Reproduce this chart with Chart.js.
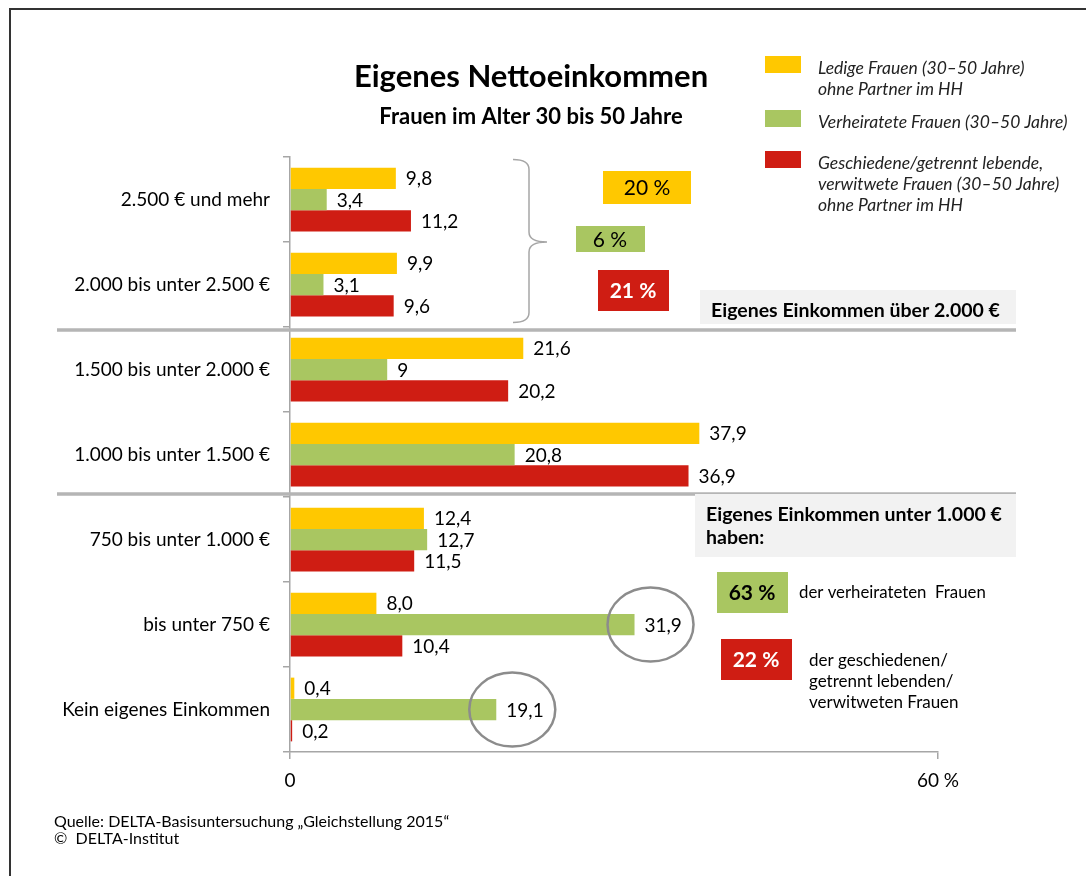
<!DOCTYPE html>
<html lang="de">
<head>
<meta charset="UTF-8">
<title>Eigenes Nettoeinkommen</title>
<script src="https://cdn.jsdelivr.net/npm/chart.js"></script>
<style>
  html, body { margin: 0; padding: 0; background: #fff; }
  #wrap { position: relative; width: 1086px; height: 876px; }
</style>
</head>
<body>
<div id="wrap"><canvas id="chart" width="1086" height="876"></canvas></div>
<script>
// Daten
const kategorien = ['2.500 € und mehr', '2.000 bis unter 2.500 €', '1.500 bis unter 2.000 €',
  '1.000 bis unter 1.500 €', '750 bis unter 1.000 €', 'bis unter 750 €', 'Kein eigenes Einkommen'];
const ledige = [9.8, 9.9, 21.6, 37.9, 12.4, 8.0, 0.4];
const verheiratete = [3.4, 3.1, 9, 20.8, 12.7, 31.9, 19.1];
const geschiedene = [11.2, 9.6, 20.2, 36.9, 11.5, 10.4, 0.2];
const ledigeText = ['9,8', '9,9', '21,6', '37,9', '12,4', '8,0', '0,4'];
const verheirateteText = ['3,4', '3,1', '9', '20,8', '12,7', '31,9', '19,1'];
const geschiedeneText = ['11,2', '9,6', '20,2', '36,9', '11,5', '10,4', '0,2'];
const legendeTexte = [
  ['Ledige Frauen (30–50 Jahre)', 'ohne Partner im HH'],
  ['Verheiratete Frauen (30–50 Jahre)'],
  ['Geschiedene/getrennt lebende,', 'verwitwete Frauen (30–50 Jahre)', 'ohne Partner im HH']
];
const xTicks = [0, 60];
const markiert = [[1, 5], [1, 6]]; // [dataset, index] mit Kreis

const GELB = '#FFC800', GRUEN = '#A9C661', ROT = '#CF1D13', GRAU = '#a6a6a6';
const SCHRIFT = 'Lato, "Open Sans", sans-serif';

function box(ctx, x, y, w, h, farbe) {
  ctx.fillStyle = farbe;
  ctx.fillRect(x, y, w, h);
}
function text(ctx, t, x, y, font, farbe, align) {
  ctx.font = font;
  ctx.fillStyle = farbe || '#000';
  ctx.textAlign = align || 'left';
  ctx.textBaseline = 'middle';
  ctx.fillText(t, x, y);
}

const wertBeschriftung = {
  id: 'wertBeschriftung',
  afterDatasetsDraw(chart) {
    const ctx = chart.ctx;
    ctx.save();
    chart.data.datasets.forEach((ds, di) => {
      chart.getDatasetMeta(di).data.forEach((bar, i) => {
        text(ctx, ds.texte[i], bar.x + 10, bar.y + 1, '19px ' + SCHRIFT, '#000');
      });
    });
    ctx.restore();
  }
};

const annotationen = {
  id: 'annotationen',
  afterDraw(chart) {
    const ctx = chart.ctx;
    const y = chart.scales.y;
    ctx.save();

    // Rahmen
    ctx.strokeStyle = '#333';
    ctx.lineWidth = 2;
    ctx.beginPath();
    ctx.moveTo(10, 876); ctx.lineTo(10, 9); ctx.lineTo(1086, 9);
    ctx.stroke();

    // Titel
    text(ctx, 'Eigenes Nettoeinkommen', 531, 77, 'bold 31px ' + SCHRIFT, '#000', 'center');
    text(ctx, 'Frauen im Alter 30 bis 50 Jahre', 531, 117, 'bold 22px ' + SCHRIFT, '#000', 'center');

    // Legende
    const farben = [GELB, GRUEN, ROT];
    const legY = [56, 110, 151];
    legendeTexte.forEach((zeilen, k) => {
      box(ctx, 765, legY[k], 36, 17, farben[k]);
      zeilen.forEach((z, j) => {
        text(ctx, z, 818, legY[k] + 12 + j * 21, 'italic 17.5px ' + SCHRIFT, '#222');
      });
    });

    // Trennlinien zwischen den Einkommensgruppen
    const grenze = (a) => (y.getPixelForValue(a) + y.getPixelForValue(a + 1)) / 2;
    ctx.strokeStyle = '#b5b5b5';
    ctx.lineWidth = 3.5;
    [grenze(1) + 3, grenze(3) - 3].forEach(py => {
      ctx.beginPath(); ctx.moveTo(57, py); ctx.lineTo(1016, py); ctx.stroke();
    });

    // geschweifte Klammer
    const top = y.getPixelForValue(0) - 40, mid = grenze(0), bot = y.getPixelForValue(1) + 38;
    ctx.strokeStyle = GRAU;
    ctx.lineWidth = 1.5;
    ctx.beginPath();
    ctx.moveTo(513, top);
    ctx.quadraticCurveTo(529, top, 529, top + 10);
    ctx.lineTo(529, mid - 10);
    ctx.quadraticCurveTo(529, mid, 547, mid);
    ctx.quadraticCurveTo(529, mid, 529, mid + 10);
    ctx.lineTo(529, bot - 10);
    ctx.quadraticCurveTo(529, bot, 513, bot);
    ctx.stroke();

    // Anteile über 2.000 €
    box(ctx, 603, 171, 88, 33, GELB);
    text(ctx, '20 %', 647, 188, '21px ' + SCHRIFT, '#000', 'center');
    box(ctx, 576, 226, 69, 26, GRUEN);
    text(ctx, '6 %', 610, 240, '21px ' + SCHRIFT, '#000', 'center');
    box(ctx, 598, 270, 71, 41, ROT);
    text(ctx, '21 %', 633, 291, 'bold 21px ' + SCHRIFT, '#fff', 'center');
    box(ctx, 700, 290, 316, 34, '#f2f2f2');
    text(ctx, 'Eigenes Einkommen über 2.000 €', 711, 311, 'bold 19.5px ' + SCHRIFT);

    // Anteile unter 1.000 €
    box(ctx, 695, 494, 321, 63, '#f2f2f2');
    text(ctx, 'Eigenes Einkommen unter 1.000 €', 706, 515, 'bold 19.5px ' + SCHRIFT);
    text(ctx, 'haben:', 706, 538, 'bold 19.5px ' + SCHRIFT);
    box(ctx, 717, 572, 71, 41, GRUEN);
    text(ctx, '63 %', 752, 593, 'bold 21px ' + SCHRIFT, '#000', 'center');
    text(ctx, 'der verheirateten  Frauen', 799, 593, '16.8px ' + SCHRIFT);
    box(ctx, 721, 639, 71, 41, ROT);
    text(ctx, '22 %', 756, 660, 'bold 21px ' + SCHRIFT, '#fff', 'center');
    ['der geschiedenen/', 'getrennt lebenden/', 'verwitweten Frauen'].forEach((z, j) => {
      text(ctx, z, 809, 661 + j * 21, '17px ' + SCHRIFT);
    });

    // Kreise um auffällige Werte
    ctx.strokeStyle = '#8c8c8c';
    ctx.lineWidth = 2.5;
    markiert.forEach(([di, i]) => {
      const bar = chart.getDatasetMeta(di).data[i];
      ctx.beginPath();
      ctx.ellipse(bar.x + 16, bar.y, 43, 37, 0, 0, Math.PI * 2);
      ctx.stroke();
    });

    // Quelle
    text(ctx, 'Quelle: DELTA-Basisuntersuchung „Gleichstellung 2015“', 54, 822, '16px ' + SCHRIFT);
    text(ctx, '©  DELTA-Institut', 54, 839, '16px ' + SCHRIFT);

    ctx.restore();
  }
};

const ctx = document.getElementById('chart').getContext('2d');
new Chart(ctx, {
  type: 'bar',
  data: {
    labels: kategorien,
    datasets: [
      { label: legendeTexte[0].join(' '), data: ledige, texte: ledigeText, backgroundColor: GELB },
      { label: legendeTexte[1].join(' '), data: verheiratete, texte: verheirateteText, backgroundColor: GRUEN },
      { label: legendeTexte[2].join(' '), data: geschiedene, texte: geschiedeneText, backgroundColor: ROT }
    ]
  },
  options: {
    indexAxis: 'y',
    responsive: false,
    animation: false,
    layout: { padding: { top: 157, right: 148, bottom: 74, left: 0 } },
    datasets: { bar: { categoryPercentage: 0.75, barPercentage: 1 } },
    plugins: { legend: { display: false }, tooltip: { enabled: false } },
    scales: {
      x: {
        min: 0, max: 60,
        afterBuildTicks: s => { s.ticks = xTicks.map(v => ({ value: v })); },
        afterFit: s => { s.height = 50; },
        ticks: {
          callback: v => v === 60 ? '60 %' : String(v),
          font: { family: SCHRIFT, size: 19 }, color: '#000', padding: 10,
          maxRotation: 0, autoSkip: false
        },
        grid: { drawOnChartArea: false, tickLength: 7, color: GRAU, lineWidth: 1.5 },
        border: { color: GRAU, width: 1.5 }
      },
      y: {
        afterFit: s => { s.width = 290; },
        ticks: { font: { family: SCHRIFT, size: 19 }, color: '#000', padding: 13 },
        grid: { drawOnChartArea: false, tickLength: 7, color: GRAU, lineWidth: 1.5, offset: true },
        border: { color: GRAU, width: 1.5 }
      }
    }
  },
  plugins: [wertBeschriftung, annotationen]
});
</script>
</body>
</html>
